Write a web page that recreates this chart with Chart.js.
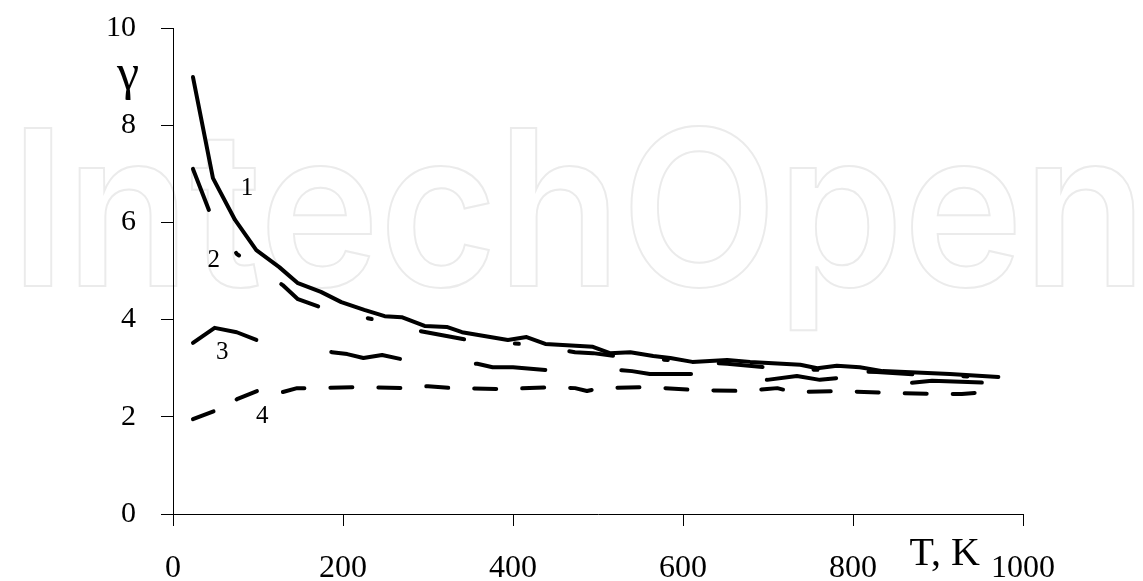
<!DOCTYPE html>
<html><head><meta charset="utf-8">
<script src="https://cdn.jsdelivr.net/npm/chart.js@4/dist/chart.umd.min.js"></script>
<style>html,body{margin:0;padding:0;background:#fff}#wrap{width:1143px;height:581px;position:relative}</style>
</head><body><div id="wrap"><canvas id="c" width="1143" height="581"></canvas></div>
<script>
// ---- data ----
const xTicks = [0, 200, 400, 600, 800, 1000];
const yTicks = [0, 2, 4, 6, 8, 10];

const curve1T = [23.5, 47, 73, 98, 125, 147, 174, 198, 225, 249, 269, 296, 322, 340, 394, 416, 438, 494, 514, 538, 565, 585, 611, 652, 679, 738, 758, 781, 808, 835, 914, 971];
const curve1G = [8.99, 6.91, 6.05, 5.43, 5.08, 4.75, 4.57, 4.36, 4.20, 4.07, 4.05, 3.87, 3.85, 3.74, 3.58, 3.64, 3.50, 3.44, 3.31, 3.33, 3.25, 3.21, 3.13, 3.17, 3.13, 3.07, 3.00, 3.05, 3.02, 2.94, 2.88, 2.82];

const curve2T = [23.5, 45, 75, 84, 129, 147, 179, 234, 242, 298, 353, 408, 473, 494, 529, 652, 708, 769, 828, 887, 949];
const curve2G = [7.10, 6.13, 5.35, 5.25, 4.71, 4.42, 4.22, 4.01, 3.93, 3.74, 3.56, 3.50, 3.33, 3.31, 3.23, 3.09, 3.00, 2.96, 2.92, 2.86, 2.82];

const curve3T = [23.5, 49, 75, 104, 187, 205, 224, 246, 273, 358, 376, 400, 441, 528, 540, 561, 614, 699, 734, 761, 785, 869, 893, 958];
const curve3G = [3.52, 3.83, 3.74, 3.54, 3.33, 3.29, 3.21, 3.27, 3.17, 3.09, 3.02, 3.02, 2.96, 2.96, 2.94, 2.88, 2.88, 2.76, 2.84, 2.76, 2.80, 2.70, 2.74, 2.70];

const curve4T = [23.5, 52, 76, 99, 129, 146, 159, 218, 273, 300, 329, 388, 446, 473, 487, 502, 559, 616, 673, 699, 711, 729, 787, 844, 900, 928, 958];
const curve4G = [1.95, 2.14, 2.37, 2.53, 2.51, 2.59, 2.59, 2.61, 2.59, 2.63, 2.59, 2.57, 2.61, 2.59, 2.53, 2.59, 2.61, 2.55, 2.53, 2.57, 2.59, 2.51, 2.53, 2.49, 2.47, 2.47, 2.51];

const curveLabels = ['1', '2', '3', '4'];
const curveLabelT = [87, 48, 58, 105];
const curveLabelG = [6.69, 5.21, 3.33, 2.0];

const xTitle = 'T, K';
const yTitle = 'γ';
const watermark = 'IntechOpen';

// ---- build ----
function pts(xs, ys) { return xs.map((x, i) => ({ x: x, y: ys[i] })); }

const serif = "'Liberation Serif', 'Times New Roman', serif";

const textPlugin = {
  id: 'texts',
  beforeDraw(chart) {
    const ctx = chart.ctx;
    ctx.save();
    ctx.fillStyle = '#fff';
    ctx.fillRect(0, 0, chart.width, chart.height);
    ctx.font = "600 217px Inter";
    const w = ctx.measureText(watermark).width;
    const target = 1137;
    ctx.translate(10, 286);
    ctx.scale(target / w, 1);
    ctx.strokeStyle = '#ebebeb';
    ctx.lineWidth = 2;
    ctx.textBaseline = 'alphabetic';
    ctx.strokeText(watermark, 0, 0);
    ctx.restore();
  },
  afterDatasetsDraw(chart) {
    const ctx = chart.ctx;
    const xs = chart.scales.x, ys = chart.scales.y;
    ctx.save();
    ctx.fillStyle = '#000';
    ctx.textAlign = 'center';
    ctx.textBaseline = 'middle';
    ctx.font = "25px " + serif;
    curveLabels.forEach((t, i) => {
      ctx.fillText(t, xs.getPixelForValue(curveLabelT[i]), ys.getPixelForValue(curveLabelG[i]));
    });
    // axis titles
    ctx.textBaseline = 'alphabetic';
    ctx.font = "40px " + serif;
    ctx.fillText(xTitle, xs.getPixelForValue(908), chart.chartArea.bottom + 51);
    ctx.font = "50px " + serif;
    ctx.fillText(yTitle, chart.chartArea.left - 45, ys.getPixelForValue(8.74));
    ctx.restore();
  }
};

const common = { borderColor: '#000', borderWidth: 4, pointRadius: 0, tension: 0, fill: false,
  borderCapStyle: 'round', borderJoinStyle: 'round' };

function noPad(s) { s.paddingTop = 0; s.paddingBottom = 0; s.paddingLeft = 0; s.paddingRight = 0; }

new Chart(document.getElementById('c'), {
  type: 'line',
  data: {
    datasets: [
      Object.assign({ label: '1', data: pts(curve1T, curve1G) }, common),
      Object.assign({ label: '2', data: pts(curve2T, curve2G), borderDash: [44, 51, 4, 51] }, common),
      Object.assign({ label: '3', data: pts(curve3T, curve3G), borderDash: [70, 76] }, common),
      Object.assign({ label: '4', data: pts(curve4T, curve4G), borderDash: [22, 26] }, common)
    ]
  },
  options: {
    responsive: false,
    animation: false,
    layout: { padding: { left: 0, top: 28, right: 120, bottom: 0 } },
    plugins: { legend: { display: false }, tooltip: { enabled: false } },
    scales: {
      x: {
        type: 'linear', min: 0, max: 1000,
        afterBuildTicks(s) { s.ticks = xTicks.map(v => ({ value: v })); },
        afterFit(s) { s.height = 67; noPad(s); },
        grid: { drawOnChartArea: false, drawTicks: true, tickLength: 12, color: '#000', lineWidth: 1 },
        border: { display: true, color: '#000', width: 1 },
        ticks: { color: '#000', font: { family: serif, size: 32 }, padding: 23, maxRotation: 0, autoSkip: false,
          callback: v => String(v) }
      },
      y: {
        type: 'linear', min: 0, max: 10,
        afterBuildTicks(s) { s.ticks = yTicks.map(v => ({ value: v })); },
        afterFit(s) { s.width = 173; noPad(s); },
        grid: { drawOnChartArea: false, drawTicks: true, tickLength: 12, color: '#000', lineWidth: 1 },
        border: { display: true, color: '#000', width: 1 },
        ticks: { color: '#000', font: { family: serif, size: 30 }, padding: 25, callback: v => String(v) }
      }
    }
  },
  plugins: [textPlugin]
});
</script>
</body></html>
